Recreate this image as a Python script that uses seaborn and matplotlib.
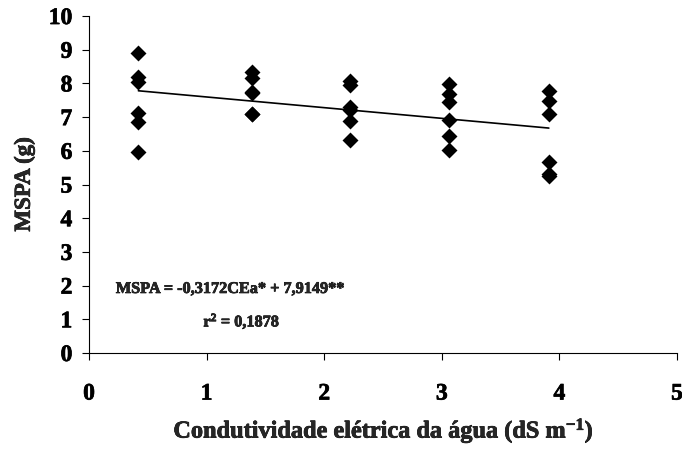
import numpy as np
import pandas as pd
import matplotlib
matplotlib.use("Agg")
import matplotlib.pyplot as plt
import matplotlib.patheffects as pe
import seaborn as sns

# Electrical conductivity levels of irrigation water (dS m-1)
ce_levels = [0.42, 1.39, 2.22, 3.06, 3.91]

# Shoot dry mass (g), six observations per level
mspa_0 = [8.91, 8.20, 8.05, 7.12, 6.85, 5.95]
mspa_1 = [8.33, 8.16, 7.76, 7.73, 7.10, 7.08]
mspa_2 = [8.07, 7.95, 7.31, 7.22, 6.88, 6.33]
mspa_3 = [7.97, 7.68, 7.46, 6.90, 6.45, 6.02]
mspa_4 = [7.77, 7.48, 7.09, 5.68, 5.30, 5.26]

# Fitted linear model
slope = -0.3172
intercept = 7.9149
r2 = 0.1878

x_ticks = [0, 1, 2, 3, 4, 5]
y_ticks = list(range(0, 11))

groups = [mspa_0, mspa_1, mspa_2, mspa_3, mspa_4]
df = pd.DataFrame({
    "CEa": np.repeat(ce_levels, [len(g) for g in groups]),
    "MSPA": np.concatenate(groups),
})
fit_x = np.array([min(ce_levels), max(ce_levels)])
fit_df = pd.DataFrame({"CEa": fit_x, "MSPA": slope * fit_x + intercept})

sns.set_theme(style="ticks")
plt.rcParams["font.family"] = ["Liberation Serif", "DejaVu Serif"]
plt.rcParams["font.weight"] = "bold"
plt.rcParams["mathtext.fontset"] = "custom"
plt.rcParams["mathtext.rm"] = "Liberation Serif:bold"
plt.rcParams["mathtext.it"] = "Liberation Serif:bold"
plt.rcParams["mathtext.bf"] = "Liberation Serif:bold"

heavy = [pe.withStroke(linewidth=0.5, foreground="black")]

fig = plt.figure(figsize=(6.82, 4.63), dpi=100)
ax = fig.add_axes([0.1305, 0.2376, 0.8622, 0.7278])

sns.lineplot(data=fit_df, x="CEa", y="MSPA", ax=ax, color="black", linewidth=1.2)
sns.scatterplot(data=df, x="CEa", y="MSPA", ax=ax, marker="D", s=66,
                color="black", edgecolor="black", linewidth=0, zorder=3)

ax.set_xlim(0, 5)
ax.set_ylim(0, 10)
ax.set_xticks(x_ticks)
ax.set_yticks(y_ticks)
ax.tick_params(axis="both", direction="out", length=5, width=0.8,
               labelsize=17, colors="black")
ax.tick_params(axis="y", pad=7)
ax.tick_params(axis="x", pad=17)
for lbl in ax.get_xticklabels() + ax.get_yticklabels():
    lbl.set_fontweight("bold")
    lbl.set_path_effects(heavy)
for side in ["top", "right"]:
    ax.spines[side].set_visible(False)
for side in ["left", "bottom"]:
    ax.spines[side].set_color("black")
    ax.spines[side].set_linewidth(0.8)

ax.set_xlabel("Condutividade elétrica da água (dS m$^{-1}$)", fontsize=17.5,
              fontweight="bold", labelpad=9, path_effects=heavy)
ax.set_ylabel("MSPA (g)", fontsize=16.5, fontweight="bold", labelpad=10,
              path_effects=heavy)

ax.text(0.24, 0.19, "MSPA = -0,3172CEa* + 7,9149**", transform=ax.transAxes,
        fontsize=11.7, fontweight="bold", ha="center", va="center",
        path_effects=heavy)
ax.text(0.26, 0.094, f"r$^{{2}}$ = {r2:.4f}".replace(".", ","), transform=ax.transAxes,
        fontsize=11.7, fontweight="bold", ha="center", va="center",
        path_effects=heavy)

fig.savefig("out.png", dpi=100, facecolor="white")
